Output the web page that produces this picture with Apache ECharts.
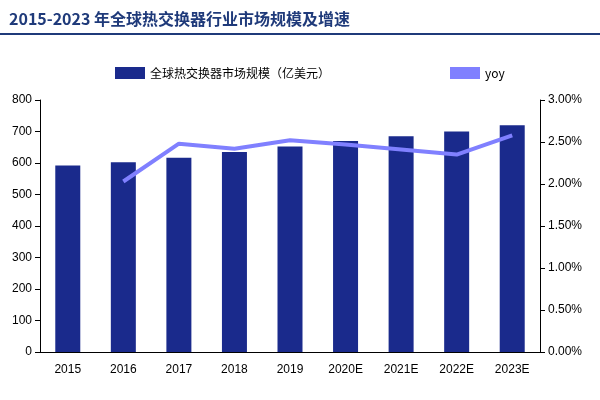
<!DOCTYPE html>
<html>
<head>
<meta charset="utf-8">
<script src="https://cdn.jsdelivr.net/npm/echarts@6/dist/echarts.min.js"></script>
<style>body{margin:0}#main{width:600px;height:400px}</style>
</head>
<body>
<div id="main"></div>
<script>
var years = ['2015', '2016', '2017', '2018', '2019', '2020E', '2021E', '2022E', '2023E'];
var marketSize = [592, 602, 617, 635, 652, 670, 685, 700, 720];
var yoy = [null, 2.03, 2.48, 2.42, 2.52, 2.47, 2.41, 2.35, 2.58];

var chart = echarts.init(document.getElementById('main'));
var option = {
    backgroundColor: '#fff',
    title: {
        text: '2015-2023 年全球热交换器行业市场规模及增速',
        left: 4,
        top: 6,
        textStyle: {color: '#1f3a7a', fontSize: 16, fontWeight: 'bold', fontFamily: 'Noto Sans CJK SC'}
    },
    graphic: [{
        type: 'line',
        shape: {x1: 0, y1: 34, x2: 600, y2: 34},
        style: {stroke: '#1f3a7a', lineWidth: 2}
    }],
    legend: {
        top: 62,
        left: 110,
        itemGap: 120,
        itemWidth: 30,
        itemHeight: 12,
        textStyle: {fontSize: 12, color: '#000', fontFamily: 'Noto Sans CJK SC'},
        data: [
            {name: '全球热交换器市场规模（亿美元）', icon: 'rect'},
            {name: 'yoy', icon: 'rect'}
        ]
    },
    grid: {left: 40, right: 60, top: 100, bottom: 48},
    xAxis: {
        type: 'category',
        data: years,
        axisTick: {show: false},
        axisLine: {lineStyle: {color: '#000'}},
        axisLabel: {color: '#000', fontSize: 12, margin: 12}
    },
    yAxis: [{
        type: 'value',
        min: 0, max: 800, interval: 100,
        splitLine: {show: false},
        axisLine: {show: true, lineStyle: {color: '#000'}},
        axisTick: {show: true},
        axisLabel: {color: '#000', fontSize: 12}
    }, {
        type: 'value',
        min: 0, max: 3, interval: 0.5,
        splitLine: {show: false},
        axisLine: {show: true, lineStyle: {color: '#000'}},
        axisTick: {show: true},
        axisLabel: {color: '#000', fontSize: 12, formatter: function (v) { return v.toFixed(2) + '%'; }}
    }],
    series: [{
        name: '全球热交换器市场规模（亿美元）',
        type: 'bar',
        data: marketSize,
        barWidth: 25,
        itemStyle: {color: '#1a2a8c'}
    }, {
        name: 'yoy',
        type: 'line',
        yAxisIndex: 1,
        data: yoy,
        symbol: 'none',
        lineStyle: {width: 4, color: '#8080ff'},
        itemStyle: {color: '#8080ff'}
    }]
};
chart.setOption(option);
</script>
</body>
</html>
